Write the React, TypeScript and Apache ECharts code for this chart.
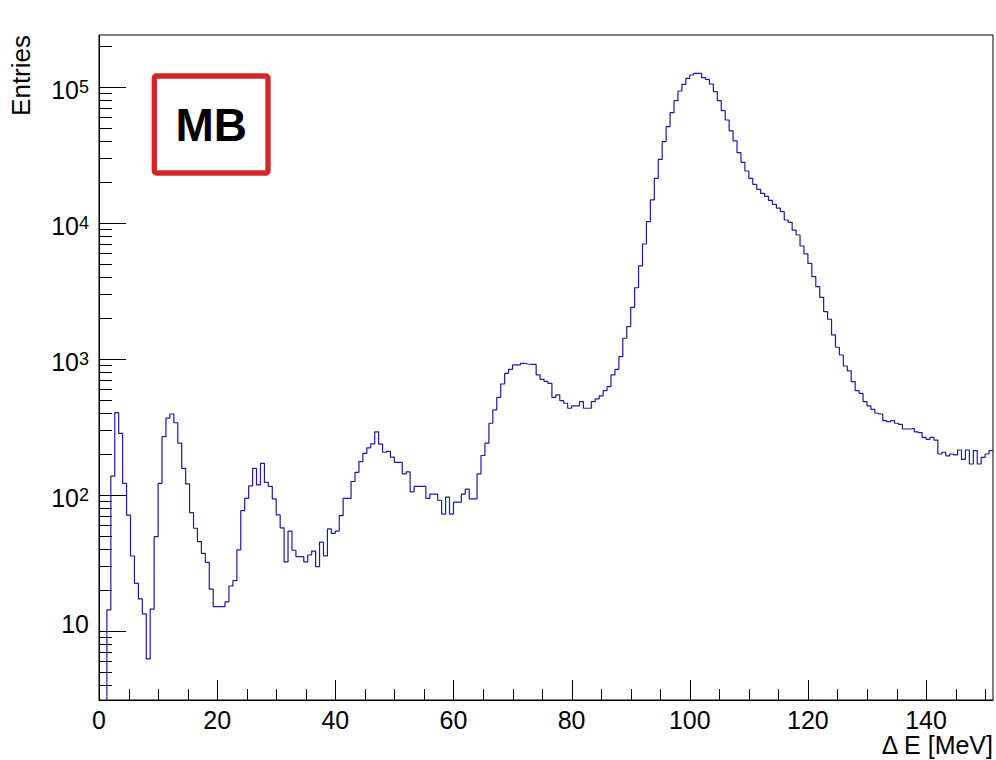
import React, { useEffect, useRef } from "react";
import * as echarts from "echarts";

// ---- data ----
const binWidth = 2 / 3; // MeV
const xMin = 0;
const xMax = 151.333;
const yMin = 3.09;
const yMax = 2.4e5;

// entries per bin (bin k covers [k*binWidth, (k+1)*binWidth])
const counts: number[] = [
  1, 1, 14.2, 137, 401, 282, 121, 70.6, 35.4, 22.3,
  17.1, 13.3, 6.2, 14.4, 49.1, 121, 267, 365, 392, 338,
  239, 156, 120, 73.8, 56.6, 45.2, 37.0, 31.8, 20.2, 15.0,
  15.0, 15.0, 16.3, 21.3, 23.3, 39.2, 76.3, 94, 116, 156,
  118, 170, 123, 115, 93, 71, 57, 32, 54, 39,
  35, 35, 32, 36, 38.5, 29.6, 44.7, 35.5, 56, 52,
  54, 70, 94, 94, 125, 146, 175, 201, 221, 236,
  290, 235, 205, 208, 189, 173, 173, 142, 147, 105,
  115, 115, 115, 94, 101, 101, 91, 72, 96, 72,
  88, 88, 101, 110, 93, 93, 142, 194, 239, 335,
  420, 520, 651, 780, 835, 899, 899, 925, 914, 909,
  909, 759, 705, 680, 659, 520, 541, 491, 470, 432,
  449, 449, 483, 432, 432, 483, 506, 532, 582, 622,
  759, 835, 1035, 1413, 1718, 2386, 3322, 4808, 6970, 10170,
  14700, 21200, 29240, 39430, 50800, 64400, 78900, 93000, 104100, 115300,
  121900, 125300, 125300, 116500, 113200, 104700, 91900, 78900, 66650, 56900,
  47400, 39900, 32700, 27800, 24000, 21200, 19100, 17600, 16400, 15600,
  14600, 13650, 12800, 12050, 10470, 10070, 8830, 8120, 6740, 5890,
  5020, 4010, 3385, 2826, 2217, 1949, 1494, 1213, 1064, 883,
  812, 678, 582, 555, 483, 449, 424, 397, 392, 350,
  344, 350, 335, 329, 304, 304, 307, 290, 286, 264,
  255, 264, 252, 199, 205, 193, 199, 196, 213, 182,
  213, 168, 211, 168, 188, 199, 211,
];

const xTickValues: number[] = [
  0, 5, 10, 15, 20, 25, 30, 35, 40, 45, 50, 55, 60, 65, 70, 75,
  80, 85, 90, 95, 100, 105, 110, 115, 120, 125, 130, 135, 140, 145, 150,
];
const xMajorStep = 20;
const yTickDecades: number[] = [1, 10, 100, 1000, 10000, 100000];
const yTickMultipliers: number[] = [1, 2, 3, 4, 5, 6, 7, 8, 9];

const xTitle = "\u0394 E [MeV]";
const yTitle = "Entries";
const boxLabel = "MB";

const FONT = "'Liberation Sans', Arial, Helvetica, sans-serif";

export default function App() {
  const ref = useRef<HTMLDivElement>(null);

  useEffect(() => {
    if (!ref.current) return;
    const chart = echarts.init(ref.current, undefined, { renderer: "svg" });

    const histPoints: number[][] = counts.map((c, i) => [i * binWidth, c]);
    histPoints.push([counts.length * binWidth, counts[counts.length - 1]]);

    const yTicks: number[][] = [];
    yTickDecades.forEach((d) =>
      yTickMultipliers.forEach((m) => {
        const v = m * d;
        if (v >= yMin && v <= yMax) yTicks.push([xMin, v]);
      })
    );
    const xTicks = xTickValues.map((v) => [v, yMin]);

    chart.setOption({
      animation: false,
      backgroundColor: "#ffffff",
      grid: {
        left: 99,
        top: 35,
        right: 3,
        bottom: 60,
        show: true,
        borderColor: "#000",
        borderWidth: 1,
        backgroundColor: "transparent",
        containLabel: false,
        outerBoundsMode: "none",
      },
      xAxis: {
        type: "value",
        min: xMin,
        max: xMax,
        interval: xMajorStep,
        axisLine: { show: true, lineStyle: { color: "#000", width: 1 } },
        axisTick: { show: false },
        splitLine: { show: false },
        axisLabel: {
          color: "#000",
          fontSize: 25,
          fontFamily: FONT,
          margin: 7,
          showMinLabel: true,
          showMaxLabel: false,
        },
      },
      yAxis: {
        type: "log",
        logBase: 10,
        min: yMin,
        max: yMax,
        axisLine: { show: true, lineStyle: { color: "#000", width: 1 } },
        axisTick: { show: false },
        splitLine: { show: false },
        axisLabel: {
          color: "#000",
          fontFamily: FONT,
          margin: 10,
          showMinLabel: false,
          showMaxLabel: false,
          formatter: (value: number) => {
            const e = Math.round(Math.log10(value));
            if (e === 1) return "{p|10}";
            return "{b|10}{s|" + e + "}";
          },
          rich: {
            p: { fontSize: 25, fontFamily: FONT, color: "#000", padding: [0, 0, 14, 0] },
            b: { fontSize: 25, fontFamily: FONT, color: "#000", padding: [7, 0, 0, 0] },
            s: { fontSize: 18, fontFamily: FONT, color: "#000" },
          },
        },
      },
      series: [
        {
          type: "line",
          data: histPoints,
          step: "end",
          symbol: "none",
          showSymbol: false,
          clip: true,
          lineStyle: { color: "#1c1ca8", width: 1.2 },
          z: 3,
        },
        {
          type: "custom",
          data: xTicks,
          encode: { x: 0, y: 1 },
          clip: false,
          silent: true,
          z: 4,
          renderItem: (_params: any, api: any) => {
            const v = api.value(0);
            const p = api.coord([v, yMin]);
            const len = v % xMajorStep === 0 ? 20 : 11;
            const x = Math.round(p[0]) + 0.5;
            return {
              type: "line",
              shape: { x1: x, y1: p[1], x2: x, y2: p[1] - len },
              style: { stroke: "#000", lineWidth: 1 },
            };
          },
        },
        {
          type: "custom",
          data: yTicks,
          encode: { x: 0, y: 1 },
          clip: false,
          silent: true,
          z: 4,
          renderItem: (_params: any, api: any) => {
            const v = api.value(1);
            const p = api.coord([xMin, v]);
            const e = Math.log10(v);
            const major = Math.abs(e - Math.round(e)) < 1e-9;
            const len = major ? 27 : 13;
            const y = Math.round(p[1]) + 0.5;
            return {
              type: "line",
              shape: { x1: p[0], y1: y, x2: p[0] + len, y2: y },
              style: { stroke: "#000", lineWidth: 1 },
            };
          },
        },
      ],
      graphic: [
        {
          type: "text",
          x: 993,
          y: 745,
          style: {
            text: xTitle,
            fontSize: 25,
            fontFamily: FONT,
            fill: "#000",
            align: "right",
            verticalAlign: "middle",
          },
        },
        {
          type: "text",
          x: 21,
          y: 35,
          rotation: Math.PI / 2,
          style: {
            text: yTitle,
            fontSize: 26,
            fontFamily: FONT,
            fill: "#000",
            align: "right",
            verticalAlign: "middle",
          },
        },
        {
          type: "rect",
          shape: { x: 154.3, y: 76, width: 113.7, height: 97, r: 2 },
          style: { fill: "#fff", stroke: "#d0282a", lineWidth: 5.3 },
          z: 10,
        },
        {
          type: "text",
          x: 211.3,
          y: 125,
          style: {
            text: boxLabel,
            fontSize: 46,
            fontWeight: "bold",
            fontFamily: FONT,
            fill: "#000",
            align: "center",
            verticalAlign: "middle",
          },
          z: 11,
        },
      ],
    });

    return () => {
      chart.dispose();
    };
  }, []);

  return (
    <div
      ref={ref}
      style={{ position: "fixed", left: 0, top: 0, width: 996, height: 760, background: "#fff" }}
    />
  );
}
